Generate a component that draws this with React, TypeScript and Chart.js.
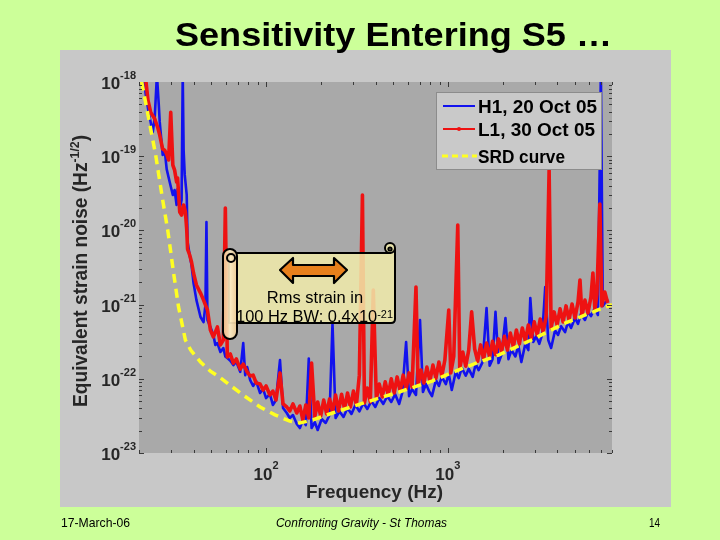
import React, { useEffect, useRef } from "react";
import { Chart, registerables } from "chart.js";

Chart.register(...registerables);

// ---------- texts ----------
const titleText = "Sensitivity Entering S5 …";
const xAxisTitle = "Frequency (Hz)";
const yAxisTitle = "Equivalent strain noise (Hz";
const yAxisTitleExp = "-1/2";
const yAxisTitleEnd = ")";
const footerLeft = "17-March-06";
const footerCenter = "Confronting Gravity - St Thomas";
const footerRight = "14";
const noteLine1 = "Rms strain in";
const noteLine2 = "100 Hz BW: 0.4x10";
const noteLine2Exp = "-21";

const seriesLabels = ["H1, 20 Oct 05", "L1, 30 Oct 05", "SRD curve"];
const seriesColors = ["#1212EE", "#EE1212", "#FFFF22"];

// ---------- axes ----------
const freqRange = [20, 8000];
const strainRange = [1e-23, 1e-18];
const xTickExponents = [2, 3];
const yTickExponents = [-18, -19, -20, -21, -22, -23];

// ---------- SRD design curve ----------
const srdFreq = [20, 20.7, 24.7, 27.0, 28.8, 31.0, 33.0, 36.0, 38.5, 43.6, 49.4, 56.1, 72.1, 92.7, 112, 135, 153.5, 180.7, 232, 357, 540, 818, 1254, 1900, 2879, 4414, 6691, 8000];
const srdStrain = [1.6e-18, 1.0e-18, 1.04e-19, 2.57e-20, 1.0e-20, 2.67e-21, 9.3e-22, 3.33e-22, 2.44e-22, 1.68e-22, 1.27e-22, 1.03e-22, 6.44e-23, 4.17e-23, 3.26e-23, 2.69e-23, 2.54e-23, 2.79e-23, 3.46e-23, 4.87e-23, 6.64e-23, 9.33e-23, 1.44e-22, 2.09e-22, 3.33e-22, 5.65e-22, 8.46e-22, 1.0e-21];

// ---------- H1, 20 Oct 05 ----------
const h1Freq = [
  21.3, 21.8, 22.6, 23.8, 24.4, 25.1, 25.7, 26.0, 27.0, 27.7,
  28.4, 29.5, 30.7, 31.4, 32.2, 32.6, 33.5, 34.3, 34.8, 35.2,
  35.7, 36.6, 37.0, 38.0, 38.9, 39.9, 41.4, 43.6, 45.3, 46.4,
  47.0, 47.6, 49.4, 51.3, 52.6, 54.0, 56.1, 58.2, 59.7, 61.2,
  63.6, 66.1, 68.6, 72.1, 74.9, 76.8, 78.7, 81.8, 84.9, 88.2,
  92.7, 96.3, 100, 105, 109, 113.4, 119.3, 124, 130, 135,
  140.6, 147.6, 153.5, 159.3, 165.5, 171.8, 178, 185.4, 192.3, 202.3,
  212.8, 223.6, 232, 241.3, 253.6, 266.8, 280.6, 295, 310.3, 326,
  343.6, 360.7, 379.4, 399, 419.8, 441.6, 464.5, 488.5, 513, 540,
  561, 589.5, 612, 635.6, 668, 703, 729.6, 758, 788, 818,
  860, 893, 927, 975, 1012, 1051, 1106, 1148, 1193, 1254,
  1303, 1370, 1423, 1477, 1553, 1633, 1698, 1762, 1829, 1900,
  1973, 2075, 2155, 2238, 2354, 2444, 2538, 2669, 2772, 2842,
  2951, 3064, 3184, 3306, 3435, 3567, 3700, 3891, 4041, 4197,
  4414, 4584, 4761, 5007, 5200, 5400, 5680, 5898, 6126, 6443,
  6691, 6949, 7117, 7391, 7673,
];
const h1Strain = [
  1.13e-18, 6.7e-19, 3.9e-19, 2.1e-19, 3.3e-19, 1.24e-18, 4.9e-19, 2.9e-19, 1.04e-19, 1.2e-19,
  6.7e-20, 4.5e-20, 3.0e-20, 3.5e-20, 2.2e-20, 3.6e-20, 1.94e-20, 2.57e-20, 1.24e-18, 1.2e-19,
  5.6e-20, 3.0e-20, 7.0e-21, 4.66e-21, 3.42e-21, 1.95e-21, 1.15e-21, 6.8e-22, 5.8e-22, 9.9e-22,
  1.3e-20, 6.2e-22, 5.0e-22, 3.9e-22, 2.86e-22, 3.03e-22, 2.3e-22, 2.6e-22, 2.0e-22, 1.9e-22,
  1.75e-22, 1.53e-22, 1.7e-22, 1.24e-22, 3.03e-22, 1.12e-22, 1.44e-22, 9.6e-23, 8.0e-23, 9.3e-23,
  6.44e-23, 7.3e-23, 5.5e-23, 6.2e-23, 4.44e-23, 5.18e-23, 1.79e-22, 4.05e-23, 3.46e-23, 2.96e-23,
  3.25e-23, 2.46e-23, 2.17e-23, 2.79e-23, 2.38e-23, 1.88e-22, 2.17e-23, 2.6e-23, 2.04e-23, 2.87e-23,
  2.54e-23, 3.25e-23, 5.65e-22, 2.96e-23, 3.63e-23, 3.06e-23, 4.05e-23, 3.36e-23, 4.44e-23, 3.63e-23,
  4.72e-23, 3.92e-23, 5.0e-23, 4.17e-23, 5.5e-23, 4.58e-23, 5.83e-23, 4.87e-23, 6.2e-23, 4.58e-23,
  6.44e-23, 3.13e-22, 5.85e-23, 7.3e-23, 6.05e-23, 6.2e-22, 6.64e-23, 8.5e-23, 6.84e-23, 5.85e-23,
  9.6e-23, 8.0e-23, 1.06e-22, 8.5e-23, 1.16e-22, 7.06e-23, 1.24e-22, 1.02e-22, 1.4e-22, 1.1e-22,
  1.36e-22, 1.06e-22, 1.58e-22, 1.31e-22, 1.68e-22, 9.0e-22, 1.5e-22, 1.84e-22, 7.97e-22, 1.63e-22,
  2.11e-22, 6.6e-22, 1.84e-22, 2.44e-22, 2.0e-22, 2.8e-22, 1.68e-22, 2.96e-22, 2.44e-22, 1.23e-21,
  3.14e-22, 3.73e-22, 2.96e-22, 3.96e-22, 1.73e-21, 3.33e-22, 2.6e-22, 4.5e-22, 3.9e-22, 5.1e-22,
  4.26e-22, 5.85e-22, 4.84e-22, 6.6e-22, 5.5e-22, 7.5e-22, 6.2e-22, 7.97e-22, 7.0e-22, 9.0e-22,
  7.24e-22, 1.45e-18, 9.6e-22, 1.09e-21, 1.15e-21,
];

// ---------- L1, 30 Oct 05 ----------
const l1Freq = [
  21.8, 22.4, 23.2, 24.4, 25.4, 26.0, 27.0, 27.7, 28.4, 29.1,
  29.9, 30.7, 31.4, 32.2, 32.6, 33.5, 34.3, 35.2, 36.0, 36.6,
  37.0, 38.0, 38.9, 39.9, 41.4, 43.6, 45.3, 47.6, 49.4, 51.3,
  52.6, 54.0, 56.1, 58.2, 59.7, 61.2, 63.6, 66.1, 68.6, 72.1,
  74.9, 78.7, 81.8, 84.9, 88.2, 92.7, 96.3, 100, 105, 109,
  113.4, 119.3, 124, 130, 135, 140.6, 147.6, 153.5, 159.3, 165.5,
  171.8, 178, 185.4, 192.3, 199.8, 207.6, 215.4, 223.6, 232, 241.3,
  250.6, 260.2, 270.3, 280.6, 291, 302.5, 314, 326, 339, 347.6,
  360.7, 374.7, 389, 404.3, 419.8, 435.8, 452.5, 470, 488.5, 507,
  526, 547, 568, 589.5, 612, 635.6, 668, 686, 712, 739,
  767, 797, 828, 860, 893, 927, 963, 1012, 1038, 1078,
  1134, 1163, 1208, 1254, 1303, 1352, 1405, 1459, 1515, 1573,
  1633, 1698, 1762, 1829, 1900, 1973, 2048, 2127, 2208, 2294,
  2382, 2474, 2569, 2669, 2772, 2879, 2988, 3103, 3223, 3347,
  3476, 3607, 3700, 3844, 3992, 4145, 4305, 4470, 4642, 4821,
  5007, 5200, 5333, 5469, 5680, 5898, 6126, 6282, 6443, 6607,
  6858, 7033, 7300, 7578,
];
const l1Strain = [
  1.06e-18, 5.7e-19, 3.9e-19, 3.2e-19, 2.4e-19, 1.93e-19, 1.25e-19, 1.2e-19, 1.07e-19, 8.9e-20,
  3.9e-19, 7.6e-20, 6.5e-20, 4.5e-20, 5.1e-20, 1.77e-20, 1.61e-20, 2.2e-20, 1.77e-20, 1.04e-20,
  5.6e-21, 4.66e-21, 3.75e-21, 2.67e-21, 1.84e-21, 1.43e-21, 1.15e-21, 8.46e-22, 4.55e-22, 3.66e-22,
  4.26e-22, 5.0e-22, 2.86e-22, 3.33e-22, 2.0e-20, 1.97e-22, 2.16e-22, 1.63e-22, 1.85e-22, 1.35e-22,
  1.58e-22, 1.24e-22, 1.09e-22, 1.12e-22, 8.78e-23, 8.5e-23, 7.06e-23, 8.0e-23, 6.05e-23, 6.84e-23,
  5.18e-23, 1.2e-22, 4.58e-23, 4.17e-23, 3.68e-23, 4.58e-23, 3.46e-23, 4.3e-23, 2.79e-23, 4.44e-23,
  2.96e-23, 1.63e-22, 3.06e-23, 4.87e-23, 3.15e-23, 5.18e-23, 3.36e-23, 5.35e-23, 3.57e-23, 6.05e-23,
  3.68e-23, 6.2e-23, 3.92e-23, 6.44e-23, 4.17e-23, 6.84e-23, 4.44e-23, 1.12e-22, 3.0e-20, 4.72e-23,
  7.5e-23, 4.87e-23, 1.57e-21, 5.35e-23, 8.5e-23, 5.69e-23, 9.1e-23, 6.05e-23, 1.0e-22, 6.44e-23,
  1.06e-22, 6.84e-23, 1.12e-22, 7.3e-23, 1.2e-22, 7.75e-23, 1.73e-21, 8.24e-23, 1.31e-22, 8.78e-23,
  1.44e-22, 9.33e-23, 1.53e-22, 1.02e-22, 1.68e-22, 1.09e-22, 1.79e-22, 8.46e-22, 1.2e-22, 2.0e-22,
  1.18e-20, 1.36e-22, 2.3e-22, 1.48e-22, 2.44e-22, 7.97e-22, 2.52e-22, 1.73e-22, 2.86e-22, 1.85e-22,
  3.03e-22, 1.97e-22, 3.2e-22, 2.11e-22, 3.45e-22, 2.3e-22, 3.73e-22, 2.44e-22, 4.14e-22, 2.68e-22,
  4.55e-22, 2.96e-22, 4.84e-22, 3.23e-22, 5.31e-22, 3.55e-22, 5.85e-22, 3.89e-22, 6.4e-22, 4.26e-22,
  7.0e-22, 6.5e-20, 4.84e-22, 7.97e-22, 5.31e-22, 8.78e-22, 5.85e-22, 9.6e-22, 6.2e-22, 1.02e-21,
  6.6e-22, 1.08e-21, 2.15e-21, 7.0e-22, 1.15e-21, 7.7e-22, 1.26e-21, 2.67e-21, 8.46e-22, 1.39e-21,
  2.27e-20, 9.6e-22, 1.48e-21, 1.05e-21,
];

const toPoints = (fs: number[], hs: number[]) => fs.map((f, i) => ({ x: f, y: hs[i] }));

// ---------- drawing helpers ----------
const FONT = '"Liberation Sans", Arial, Helvetica, sans-serif';
type Seg = { text: string; font: string; rise?: number };

function drawRich(
  ctx: CanvasRenderingContext2D,
  segs: Seg[],
  x: number,
  y: number,
  align: "left" | "center" | "right",
  fitWidth?: number
) {
  const widths = segs.map((s) => {
    ctx.font = s.font;
    return ctx.measureText(s.text).width;
  });
  const total = widths.reduce((a, b) => a + b, 0);
  const sx = fitWidth ? fitWidth / total : 1;
  ctx.save();
  ctx.translate(x, y);
  ctx.scale(sx, 1);
  let cx = align === "center" ? -total / 2 : align === "right" ? -total : 0;
  ctx.textAlign = "left";
  ctx.textBaseline = "alphabetic";
  segs.forEach((s, i) => {
    ctx.font = s.font;
    ctx.fillText(s.text, cx, -(s.rise || 0));
    cx += widths[i];
  });
  ctx.restore();
}

function drawScroll(ctx: CanvasRenderingContext2D) {
  ctx.save();
  ctx.lineWidth = 2;
  ctx.strokeStyle = "#000";
  ctx.lineJoin = "round";
  // body
  ctx.fillStyle = "rgba(240, 234, 170, 0.86)";
  ctx.beginPath();
  ctx.moveTo(229, 253);
  ctx.lineTo(390, 253);
  ctx.lineTo(395, 249);
  ctx.lineTo(395, 319);
  ctx.quadraticCurveTo(395, 323, 391, 323);
  ctx.lineTo(229, 323);
  ctx.closePath();
  ctx.fill();
  ctx.stroke();
  // top-right curl
  ctx.beginPath();
  ctx.arc(390, 248, 5, 0, Math.PI * 2);
  ctx.fill();
  ctx.stroke();
  ctx.beginPath();
  ctx.arc(390, 249, 1.6, 0, Math.PI * 2);
  ctx.stroke();
  // left roll
  const g = ctx.createLinearGradient(223, 0, 237, 0);
  g.addColorStop(0, "rgba(238, 196, 140, 0.92)");
  g.addColorStop(0.5, "rgba(252, 236, 196, 0.92)");
  g.addColorStop(1, "rgba(236, 200, 146, 0.92)");
  ctx.fillStyle = g;
  ctx.beginPath();
  ctx.moveTo(223, 256);
  ctx.arc(230, 256, 7, Math.PI, 0);
  ctx.lineTo(237, 332);
  ctx.arc(230, 332, 7, 0, Math.PI);
  ctx.closePath();
  ctx.fill();
  ctx.stroke();
  ctx.beginPath();
  ctx.arc(231, 258, 4, 0, Math.PI * 2);
  ctx.stroke();
  // double arrow
  ctx.fillStyle = "#E8801C";
  ctx.beginPath();
  ctx.moveTo(280, 270);
  ctx.lineTo(293, 258);
  ctx.lineTo(293, 265);
  ctx.lineTo(334, 265);
  ctx.lineTo(334, 258);
  ctx.lineTo(347, 270);
  ctx.lineTo(334, 283);
  ctx.lineTo(334, 276);
  ctx.lineTo(293, 276);
  ctx.lineTo(293, 283);
  ctx.closePath();
  ctx.fill();
  ctx.lineWidth = 2.2;
  ctx.stroke();
  // text
  ctx.fillStyle = "#000";
  drawRich(ctx, [{ text: noteLine1, font: `16.5px ${FONT}` }], 315, 303, "center");
  drawRich(
    ctx,
    [
      { text: noteLine2, font: `16.5px ${FONT}` },
      { text: noteLine2Exp, font: `11px ${FONT}`, rise: 4 },
    ],
    236,
    321.5,
    "left",
    157
  );
  ctx.restore();
}

function drawLegend(ctx: CanvasRenderingContext2D) {
  ctx.save();
  ctx.fillStyle = "#C9C9C9";
  ctx.fillRect(436, 92, 166, 78);
  ctx.strokeStyle = "#8C8C8C";
  ctx.lineWidth = 1;
  ctx.strokeRect(436.5, 92.5, 165, 77);
  const rows = [106, 129, 156];
  const baselines = [112.5, 136, 163];
  ctx.lineCap = "butt";
  ctx.strokeStyle = seriesColors[0];
  ctx.lineWidth = 2;
  ctx.beginPath();
  ctx.moveTo(443, rows[0]);
  ctx.lineTo(475, rows[0]);
  ctx.stroke();
  ctx.strokeStyle = seriesColors[1];
  ctx.beginPath();
  ctx.moveTo(443, rows[1]);
  ctx.lineTo(475, rows[1]);
  ctx.stroke();
  ctx.fillStyle = seriesColors[1];
  ctx.beginPath();
  ctx.arc(459, rows[1], 2, 0, Math.PI * 2);
  ctx.fill();
  ctx.strokeStyle = seriesColors[2];
  ctx.lineWidth = 3;
  ctx.setLineDash([6, 4]);
  ctx.beginPath();
  ctx.moveTo(442, rows[2]);
  ctx.lineTo(477, rows[2]);
  ctx.stroke();
  ctx.setLineDash([]);
  ctx.fillStyle = "#000";
  const widths = [119, 117, 87];
  seriesLabels.forEach((lab, i) => {
    drawRich(ctx, [{ text: lab, font: `bold 19px ${FONT}` }], 478, baselines[i], "left", widths[i]);
  });
  ctx.restore();
}

const slidePlugin = {
  id: "slideDecor",
  beforeDraw(chart: any) {
    const ctx: CanvasRenderingContext2D = chart.ctx;
    const { left, top, right, bottom } = chart.chartArea;
    ctx.save();
    ctx.fillStyle = "#CCFF99";
    ctx.fillRect(0, 0, chart.width, chart.height);
    ctx.fillStyle = "#C8C8C8";
    ctx.fillRect(60, 50, 611, 457);
    ctx.fillStyle = "#A9A9A9";
    ctx.fillRect(left, top, right - left, bottom - top);
    ctx.fillStyle = "#000";
    drawRich(ctx, [{ text: titleText, font: `bold 33px ${FONT}` }], 393.5, 46, "center", 437);
    ctx.restore();
  },
  afterDatasetsDraw(chart: any) {
    const ctx: CanvasRenderingContext2D = chart.ctx;
    const xs = chart.scales.x;
    const ys = chart.scales.y;
    const { left, top, right, bottom } = chart.chartArea;
    ctx.save();
    ctx.strokeStyle = "#3A3A3A";
    ctx.lineWidth = 1;
    ctx.beginPath();
    for (let e = -23; e <= -19; e++) {
      for (let m = 1; m <= 9; m++) {
        const v = m * Math.pow(10, e);
        if (v < strainRange[0] || v > strainRange[1]) continue;
        const py = Math.round(ys.getPixelForValue(v)) + 0.5;
        const len = m === 1 ? 5 : 3;
        ctx.moveTo(left, py);
        ctx.lineTo(left + len, py);
        ctx.moveTo(right, py);
        ctx.lineTo(right - len, py);
      }
    }
    for (let e = 1; e <= 3; e++) {
      for (let m = 1; m <= 9; m++) {
        const v = m * Math.pow(10, e);
        if (v < freqRange[0] || v > freqRange[1]) continue;
        const px = Math.round(xs.getPixelForValue(v)) + 0.5;
        const len = m === 1 ? 5 : 3;
        ctx.moveTo(px, bottom);
        ctx.lineTo(px, bottom - len);
        ctx.moveTo(px, top);
        ctx.lineTo(px, top + len);
      }
    }
    ctx.stroke();
    ctx.restore();
    drawScroll(ctx);
    drawLegend(ctx);
  },
  afterDraw(chart: any) {
    const ctx: CanvasRenderingContext2D = chart.ctx;
    const xs = chart.scales.x;
    const ys = chart.scales.y;
    ctx.save();
    ctx.fillStyle = "#262626";
    yTickExponents.forEach((e) => {
      const py = ys.getPixelForValue(Math.pow(10, e));
      drawRich(
        ctx,
        [
          { text: "10", font: `bold 17px ${FONT}` },
          { text: String(e), font: `bold 11px ${FONT}`, rise: 10 },
        ],
        136,
        py + 7,
        "right"
      );
    });
    xTickExponents.forEach((e) => {
      const px = xs.getPixelForValue(Math.pow(10, e));
      drawRich(
        ctx,
        [
          { text: "10", font: `bold 17px ${FONT}` },
          { text: String(e), font: `bold 11px ${FONT}`, rise: 11 },
        ],
        px,
        479.5,
        "center"
      );
    });
    drawRich(ctx, [{ text: xAxisTitle, font: `bold 18px ${FONT}` }], 374.5, 498, "center", 137);
    ctx.save();
    ctx.translate(87, 271);
    ctx.rotate(-Math.PI / 2);
    drawRich(
      ctx,
      [
        { text: yAxisTitle, font: `bold 19.5px ${FONT}` },
        { text: yAxisTitleExp, font: `bold 12.5px ${FONT}`, rise: 8 },
        { text: yAxisTitleEnd, font: `bold 19.5px ${FONT}` },
      ],
      0,
      0,
      "center",
      272
    );
    ctx.restore();
    ctx.fillStyle = "#000";
    drawRich(ctx, [{ text: footerLeft, font: `13px ${FONT}` }], 61, 527, "left", 69);
    drawRich(ctx, [{ text: footerCenter, font: `italic 13px ${FONT}` }], 361.5, 527, "center", 171);
    drawRich(ctx, [{ text: footerRight, font: `13px ${FONT}` }], 649, 527, "left", 11);
    ctx.restore();
  },
};

export default function App() {
  const ref = useRef<HTMLCanvasElement>(null);
  useEffect(() => {
    const canvas = ref.current;
    if (!canvas) return;
    const chart = new Chart(canvas, {
      type: "line",
      data: {
        datasets: [
          {
            label: seriesLabels[0],
            data: toPoints(h1Freq, h1Strain),
            borderColor: seriesColors[0],
            borderWidth: 2.6,
            pointRadius: 0,
            borderJoinStyle: "round",
            order: 3,
            clip: 0,
          },
          {
            label: seriesLabels[1],
            data: toPoints(l1Freq, l1Strain),
            borderColor: seriesColors[1],
            borderWidth: 3.6,
            pointRadius: 0,
            borderJoinStyle: "round",
            order: 2,
            clip: 0,
          },
          {
            label: seriesLabels[2],
            data: toPoints(srdFreq, srdStrain),
            borderColor: seriesColors[2],
            borderWidth: 3.5,
            borderDash: [9, 6],
            pointRadius: 0,
            order: 1,
            clip: 0,
          },
        ] as any,
      },
      options: {
        responsive: false,
        maintainAspectRatio: false,
        animation: false,
        events: [],
        layout: { padding: { left: 139, top: 82, right: 108, bottom: 87 } },
        scales: {
          x: { type: "logarithmic", min: freqRange[0], max: freqRange[1], display: false },
          y: { type: "logarithmic", min: strainRange[0], max: strainRange[1], display: false },
        },
        plugins: {
          legend: { display: false },
          tooltip: { enabled: false },
          title: { display: false },
        },
      } as any,
      plugins: [slidePlugin as any],
    });
    return () => chart.destroy();
  }, []);
  return (
    <div style={{ position: "fixed", left: 0, top: 0, width: 720, height: 540, background: "#CCFF99" }}>
      <canvas ref={ref} width={720} height={540} style={{ display: "block", width: 720, height: 540 }} />
    </div>
  );
}
